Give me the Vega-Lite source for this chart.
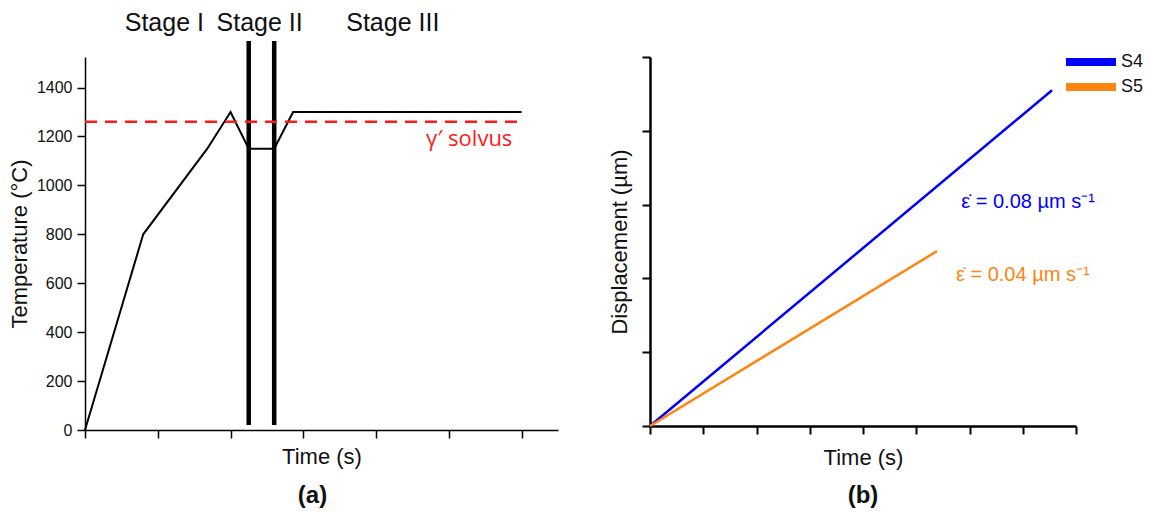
{
  "$schema": "https://vega.github.io/schema/vega-lite/v6.json",
  "background": "white",
  "padding": {"left": 8, "top": 10, "right": 5, "bottom": 5},
  "spacing": 50,
  "config": {
    "view": {"stroke": null},
    "font": "Liberation Sans",
    "axis": {"grid": false, "domainColor": "#000", "tickColor": "#000", "labelColor": "#111", "titleColor": "#111", "titleFontWeight": "normal", "labelFont": "Liberation Sans", "titleFont": "Liberation Sans"},
    "title": {"font": "Liberation Sans", "color": "#111"}
  },
  "hconcat": [
    {
      "width": 473,
      "height": 373,
      "title": {"text": "(a)", "orient": "bottom", "fontSize": 24, "fontWeight": "bold", "offset": 16, "dx": -9},
      "layer": [
        {
          "data": {"values": [
            {"t": 0, "T": 0}, {"t": 0.8, "T": 800}, {"t": 1.68, "T": 1150}, {"t": 2.0, "T": 1300},
            {"t": 2.25, "T": 1150}, {"t": 2.6, "T": 1150}, {"t": 2.86, "T": 1300}, {"t": 6.0, "T": 1300}
          ]},
          "mark": {"type": "line", "color": "#000", "strokeWidth": 2},
          "encoding": {
            "x": {"field": "t", "type": "quantitative", "scale": {"domain": [0, 6.5], "nice": false},
              "axis": {"title": "Time (s)", "titleFontSize": 22, "titlePadding": 8, "labels": false,
                "values": [0,0.5,1,1.5,2,2.5,3,3.5,4,4.5,5,5.5,6,6.5],
                "tickSize": {"condition": {"test": "datum.value % 1 === 0", "value": 8}, "value": 4},
                "domainWidth": 1.5, "tickWidth": 1.5}},
            "y": {"field": "T", "type": "quantitative", "scale": {"domain": [0, 1525], "nice": false},
              "axis": {"title": "Temperature (°C)", "titleFontSize": 22, "titlePadding": 5, "labelFontSize": 16, "labelPadding": 5, "format": "d",
                "values": [0,100,200,300,400,500,600,700,800,900,1000,1100,1200,1300,1400,1500],
                "labelExpr": "datum.value % 200 === 0 && datum.value < 1500 ? datum.label : ''",
                "tickSize": {"condition": {"test": "datum.value % 200 === 0", "value": 8}, "value": 4},
                "domainWidth": 1.5, "tickWidth": 1.5}}
          }
        },
        {
          "data": {"values": [{"t": 2.25, "lo": 20, "hi": 1590}, {"t": 2.6, "lo": 20, "hi": 1590}]},
          "mark": {"type": "rule", "color": "#000", "strokeWidth": 4.5},
          "encoding": {
            "x": {"field": "t", "type": "quantitative"},
            "y": {"field": "lo", "type": "quantitative"},
            "y2": {"field": "hi"}
          }
        },
        {
          "data": {"values": [{"t0": 0, "t1": 6.0, "T": 1260}]},
          "mark": {"type": "rule", "color": "#ff1a1a", "strokeWidth": 2.5, "strokeDash": [12, 8]},
          "encoding": {
            "x": {"field": "t0", "type": "quantitative"},
            "x2": {"field": "t1"},
            "y": {"field": "T", "type": "quantitative"}
          }
        },
        {
          "data": {"values": [
            {"t": 1.09, "T": 1665, "label": "Stage I"},
            {"t": 2.40, "T": 1665, "label": "Stage II"},
            {"t": 4.23, "T": 1665, "label": "Stage III"}
          ]},
          "mark": {"type": "text", "fontSize": 25, "color": "#111", "baseline": "middle"},
          "encoding": {
            "x": {"field": "t", "type": "quantitative"},
            "y": {"field": "T", "type": "quantitative"},
            "text": {"field": "label"}
          }
        },
        {
          "data": {"values": [{"t": 5.28, "T": 1190, "label": "γ′ solvus"}]},
          "mark": {"type": "text", "fontSize": 22, "color": "#ff1a1a", "baseline": "middle", "font": "Open Sans"},
          "encoding": {
            "x": {"field": "t", "type": "quantitative"},
            "y": {"field": "T", "type": "quantitative"},
            "text": {"field": "label"}
          }
        }
      ]
    },
    {
      "width": 426,
      "height": 369,
      "title": {"text": "(b)", "orient": "bottom", "fontSize": 24, "fontWeight": "bold", "offset": 16},
      "layer": [
        {
          "data": {"values": [
            {"s": "S4", "t": 0, "d": 0}, {"s": "S4", "t": 7.55, "d": 4.55},
            {"s": "S5", "t": 0, "d": 0}, {"s": "S5", "t": 5.39, "d": 2.37}
          ]},
          "mark": {"type": "line", "strokeWidth": 2.5},
          "encoding": {
            "x": {"field": "t", "type": "quantitative", "scale": {"domain": [0, 8], "nice": false},
              "axis": {"title": "Time (s)", "titleFontSize": 22, "titlePadding": 12, "labels": false,
                "values": [0,0.5,1,1.5,2,2.5,3,3.5,4,4.5,5,5.5,6,6.5,7,7.5,8],
                "tickSize": {"condition": {"test": "datum.value % 1 === 0", "value": 8}, "value": 4},
                "domainWidth": 2.5, "tickWidth": 2}},
            "y": {"field": "d", "type": "quantitative", "scale": {"domain": [0, 5], "nice": false},
              "axis": {"title": "Displacement (µm)", "titleFontSize": 22, "titlePadding": 10, "labels": false,
                "values": [0,0.5,1,1.5,2,2.5,3,3.5,4,4.5,5],
                "tickSize": {"condition": {"test": "datum.value % 1 === 0", "value": 8}, "value": 4},
                "domainWidth": 2.5, "tickWidth": 2}},
            "color": {"field": "s", "type": "nominal",
              "scale": {"domain": ["S4", "S5"], "range": ["#0000ff", "#ff8410"]},
              "legend": {"title": null, "orient": "none", "legendX": 997, "legendY": -4, "symbolType": "M-5,0H5",
                "symbolStrokeWidth": 8, "symbolSize": 100, "labelFontSize": 18, "labelColor": "#111", "rowPadding": -21, "labelOffset": 21}}
          }
        },
        {
          "data": {"values": [
            {"s": "S4", "t": 7.1, "d": 3.03, "label": "ε̇ = 0.08 µm s⁻¹"},
            {"s": "S5", "t": 7.0, "d": 2.04, "label": "ε̇ = 0.04 µm s⁻¹"}
          ]},
          "mark": {"type": "text", "fontSize": 20, "baseline": "middle"},
          "encoding": {
            "x": {"field": "t", "type": "quantitative"},
            "y": {"field": "d", "type": "quantitative"},
            "text": {"field": "label"},
            "color": {"field": "s", "type": "nominal"}
          }
        }
      ]
    }
  ]
}
